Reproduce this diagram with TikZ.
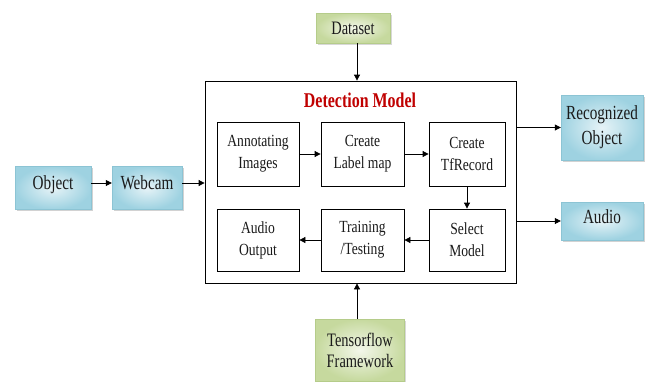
\documentclass[tikz,border=0pt]{standalone}
\usepackage{fontspec}
\setmainfont{Liberation Serif}
\newfontfamily\cond[FakeStretch=0.76]{Liberation Serif}
\newfontfamily\condi[FakeStretch=0.8]{Liberation Serif}
\usetikzlibrary{arrows.meta,shadows,shapes.geometric}
\definecolor{bluein}{HTML}{E6F3F7}
\definecolor{blueout}{HTML}{9ED2E1}
\definecolor{blueedge}{HTML}{8CC4D4}
\definecolor{greenin}{HTML}{F3F7EA}
\definecolor{greenout}{HTML}{C6D99E}
\definecolor{greenedge}{HTML}{B5CC8A}
\definecolor{titlered}{HTML}{C00000}
\definecolor{ink}{HTML}{1A1A1A}
\tikzset{
  outbox/.style={rectangle, draw=blueedge, line width=0.4pt, inner color=bluein, outer color=blueout,
    drop shadow={shadow xshift=1.5pt, shadow yshift=-1.5pt, fill=black!35},
    font=\cond\fontsize{20}{25}\selectfont, text=ink, align=center, inner sep=0pt},
  greenbox/.style={rectangle, draw=greenedge, line width=0.4pt, inner color=greenin, outer color=greenout,
    drop shadow={shadow xshift=1.5pt, shadow yshift=-1.5pt, fill=black!30},
    font=\cond\fontsize{19}{21}\selectfont, text=ink, align=center, inner sep=0pt},
  stepbox/.style={rectangle, draw=black, line width=0.8pt, fill=white,
    font=\condi\fontsize{17}{22}\selectfont, text=ink, align=center, inner sep=0pt},
  arr/.style={-{Triangle[length=6pt,width=6pt]}, line width=0.8pt, black},
}
\begin{document}
\begin{tikzpicture}[x=1pt,y=-1pt]
\useasboundingbox (0,0) rectangle (661,381);
% detection model frame
\node[draw=black, line width=0.8pt, fill=white, minimum width=311pt, minimum height=202pt, inner sep=0pt] (det) at (360.5,182) {};
\node[font=\cond\bfseries\fontsize{21}{22}\selectfont, text=titlered] (title) at (360,100) {Detection Model};
% inner steps
\node[stepbox, minimum width=82pt, minimum height=64pt] (ann) at (258,154) {Annotating\\Images};
\node[stepbox, minimum width=83pt, minimum height=64pt] (lab) at (362.5,154) {Create\\Label map};
\node[stepbox, minimum width=76pt, minimum height=64pt] (tfr) at (467,154) {Create\\TfRecord};
\node[stepbox, minimum width=82pt, minimum height=62pt] (aud) at (258,240) {Audio\\Output};
\node[stepbox, minimum width=83pt, minimum height=62pt] (trn) at (362.5,240) {Training\\/Testing};
\node[stepbox, minimum width=76pt, minimum height=62pt] (sel) at (467,240) {Select\\Model};
% outside boxes
\node[outbox, minimum width=76pt, minimum height=43pt, text height=14pt, text depth=12pt] (obj) at (53,188) {Object};
\node[outbox, minimum width=70pt, minimum height=43pt, text height=14pt, text depth=12pt] (cam) at (147,188) {Webcam};
\node[greenbox, minimum width=74pt, minimum height=30pt] (data) at (353,28) {Dataset};
\node[greenbox, minimum width=89pt, minimum height=62pt] (tf) at (360,350) {Tensorflow\\Framework};
\node[outbox, minimum width=82pt, minimum height=65pt] (rec) at (602,127.5) {Recognized\\Object};
\node[outbox, minimum width=82pt, minimum height=38pt, text height=14pt, text depth=10pt] (audio) at (602,221) {Audio};
% arrows
\coordinate (oa) at ([yshift=5pt]obj.east);
\coordinate (ca) at ([yshift=5pt]cam.east);
\draw[arr] (oa) -- (oa -| cam.west);
\draw[arr] (ca) -- (ca -| det.west);
\draw[arr] ([xshift=4pt]data.south) -- ([xshift=4pt]data.south |- det.north);
\draw[arr] ([xshift=-3pt]tf.north) -- ([xshift=-3pt]tf.north |- det.south);
\draw[arr] (rec.west -| det.east) -- (rec.west);
\draw[arr] (audio.west -| det.east) -- (audio.west);
\draw[arr] (ann) -- (lab);
\draw[arr] (lab) -- (tfr);
\draw[arr] (tfr) -- (sel);
\draw[arr] (sel) -- (trn);
\draw[arr] (trn) -- (aud);
\end{tikzpicture}
\end{document}
